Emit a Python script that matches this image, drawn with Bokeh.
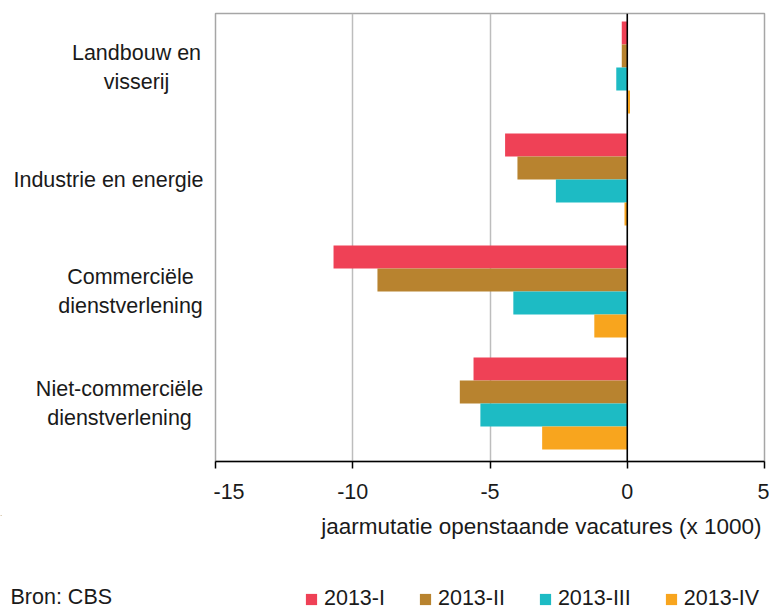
from bokeh.plotting import figure
from bokeh.models import (Range1d, FixedTicker, Span, Label, Legend, LegendItem,
                          ColumnDataSource)
from bokeh.layouts import column, row
from bokeh.transform import dodge
from bokeh.embed import file_html
from bokeh.resources import INLINE

# ---- data ----
categories = ["Landbouw en visserij", "Industrie en energie",
              "Commerciële dienstverlening", "Niet-commerciële dienstverlening"]
category_labels = ["Landbouw en\nvisserij", "Industrie en energie",
                   "Commerciële\ndienstverlening", "Niet-commerciële\ndienstverlening"]
series_names = ["2013-I", "2013-II", "2013-III", "2013-IV"]
q1 = [-0.2, -4.45, -10.7, -5.6]
q2 = [-0.2, -4.0, -9.1, -6.1]
q3 = [-0.4, -2.6, -4.15, -5.35]
q4 = [0.1, -0.1, -1.2, -3.1]
x_ticks = [-15, -10, -5, 0, 5]
x_title = "jaarmutatie openstaande vacatures (x 1000)"
source_note = "Bron: CBS"

# ---- style ----
colors = ["#EF4156", "#B8832F", "#1DBBC4", "#F8A51E"]
FONT = "Liberation Sans"
FS = "21.5px"
TXT = "#1a1a1a"
label_centers = [136, 108, 130, 119]   # px centre of each category label block

W, H = 769, 609
LEFT_W = 213
TOP_H = 515
BOT_H = H - TOP_H
FRAME_TOP, FRAME_BOTTOM, FRAME_RIGHT = 13, 461, 764

y_range = Range1d(len(categories), 0)

# main plot
p = figure(width=W - LEFT_W, height=TOP_H, x_range=Range1d(-15, 5),
           y_range=y_range, y_axis_type=None,
           output_backend="svg", toolbar_location=None,
           min_border_left=2, min_border_right=W - FRAME_RIGHT,
           min_border_top=FRAME_TOP, min_border_bottom=TOP_H - FRAME_BOTTOM)
p.outline_line_color = "#a6a6a6"
p.outline_line_width = 1.5
p.ygrid.visible = False

ax = p.xaxis[0]
ax.ticker = FixedTicker(ticks=x_ticks)
ax.major_label_overrides = {t: str(t) for t in x_ticks}
ax.major_label_text_font = FONT
ax.major_label_text_font_size = FS
ax.major_label_text_color = TXT
ax.major_tick_in = 0
ax.major_tick_out = 7
ax.minor_tick_out = 0
ax.minor_tick_in = 0
ax.axis_line_color = "black"
ax.axis_line_width = 1.5
ax.major_tick_line_color = "black"
ax.major_tick_line_width = 1.5
ax.major_label_standoff = 15

p.xgrid.ticker = FixedTicker(ticks=x_ticks)
p.xgrid.grid_line_color = "#bdbdbd"
p.xgrid.grid_line_width = 1.5

ypos = [i + 0.5 for i in range(len(categories))]
src = ColumnDataSource(dict(y=ypos, q1=q1, q2=q2, q3=q3, q4=q4))

bar_h = 0.205
shift = -0.018
offsets = [(k - 1.5) * bar_h + shift for k in range(4)]
for key, off, col in zip(["q1", "q2", "q3", "q4"], offsets, colors):
    p.hbar(y=dodge("y", off), left=0, right=key, height=bar_h,
           fill_color=col, line_color=None, source=src)

p.add_layout(Span(location=0, dimension="height", line_color="black", line_width=1.5))

# left label panel (shares y range)
pl = figure(width=LEFT_W, height=TOP_H, x_range=Range1d(0, LEFT_W), y_range=y_range,
            x_axis_type=None, y_axis_type=None,
            output_backend="svg", toolbar_location=None,
            min_border_left=0, min_border_right=0,
            min_border_top=FRAME_TOP, min_border_bottom=TOP_H - FRAME_BOTTOM)
pl.outline_line_color = None
pl.grid.visible = False
for yv, lbl, xc in zip(ypos, category_labels, label_centers):
    pl.add_layout(Label(x=xc, y=yv, y_offset=2, text=lbl,
                        text_align="center", text_baseline="middle",
                        text_line_height=1.2, text_font=FONT,
                        text_font_size=FS, text_color=TXT))

# bottom panel: axis title, source note, legend
pb = figure(width=W, height=BOT_H, x_range=Range1d(0, W), y_range=Range1d(BOT_H, 0),
            x_axis_type=None, y_axis_type=None,
            output_backend="svg", toolbar_location=None,
            min_border=0)
pb.outline_line_color = None
pb.grid.visible = False
pb.add_layout(Label(x=761, y=526 - TOP_H, text=x_title,
                    text_align="right", text_baseline="middle",
                    text_font=FONT, text_font_size="22.5px", text_color=TXT))
pb.add_layout(Label(x=10, y=596 - TOP_H, text=source_note,
                    text_align="left", text_baseline="middle",
                    text_font=FONT, text_font_size=FS, text_color=TXT))
leg_r = []
for col in colors:
    leg_r.append(pb.hbar(y=[-50], left=[0], right=[1], height=1,
                         fill_color=col, line_color=None))
legend = Legend(items=[LegendItem(label=n, renderers=[r]) for n, r in zip(series_names, leg_r)],
                orientation="horizontal", location=(304, -2),
                glyph_width=14, glyph_height=14, label_standoff=6, spacing=33,
                padding=0, margin=0, border_line_color=None,
                background_fill_alpha=0,
                label_text_font=FONT, label_text_font_size=FS,
                label_text_color=TXT)
pb.add_layout(legend)

layout = column(row(pl, p), pb)
open("out.html", "w").write(file_html(layout, INLINE))
